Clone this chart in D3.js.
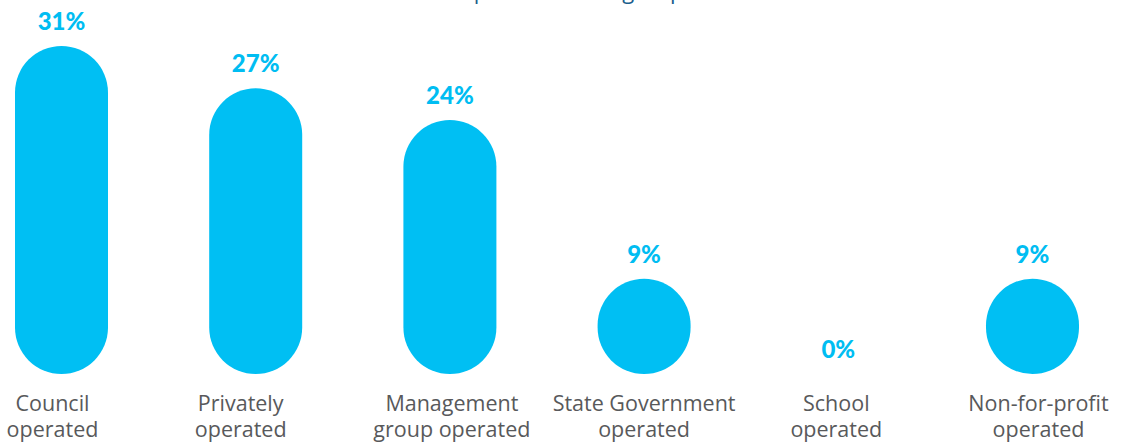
<!DOCTYPE html>
<html>
<head>
<meta charset="utf-8">
<script src="https://cdn.jsdelivr.net/npm/d3@7"></script>
<style>
  html, body { margin: 0; padding: 0; background: #ffffff; }
  svg { display: block; }
</style>
</head>
<body>
<div id="chart"></div>
<script>
// Share of playgroups by type of operator (%)
const categories = [
  ["Council", "operated"],
  ["Privately", "operated"],
  ["Management", "group operated"],
  ["State Government", "operated"],
  ["School", "operated"],
  ["Non-for-profit", "operated"]
];
const values = [31, 27, 24, 9, 0, 9];
const valueLabels = ["31%", "27%", "24%", "9%", "0%", "9%"];
const title = "Operator of the group";

const W = 1121, H = 443;
const barColor = "#00bff3";
const labelColor = "#00bdf2";
const textColor = "#58595b";

// small horizontal nudges for the category captions
const captionShift = [-9, -15, 2, 0, -2, 6];

const svg = d3.select("#chart").append("svg")
  .attr("width", W).attr("height", H);

const keys = categories.map((c, i) => i);
const x = d3.scalePoint().domain(keys).range([61.5, 1032.5]);
const y = d3.scaleLinear().domain([0, 31]).range([374, 46]);
const barW = 93;

// Title, mostly above the visible area
svg.append("text")
  .attr("x", 570).attr("y", -1)
  .attr("text-anchor", "middle")
  .attr("font-family", "'Open Sans', sans-serif")
  .attr("font-size", 22)
  .attr("fill", "#1b5e8c")
  .text(title);

// Rounded (pill-shaped) bars; a zero value draws nothing
svg.selectAll("rect.bar")
  .data(values.map((v, i) => ({ v, i })).filter(d => d.v > 0))
  .join("rect")
  .attr("class", "bar")
  .attr("x", d => x(d.i) - barW / 2)
  .attr("y", d => y(d.v))
  .attr("width", barW)
  .attr("height", d => y(0) - y(d.v))
  .attr("rx", barW / 2)
  .attr("ry", barW / 2)
  .attr("fill", barColor);

// Value labels above each bar
svg.selectAll("text.val")
  .data(values.map((v, i) => ({ v, i })))
  .join("text")
  .attr("class", "val")
  .attr("x", d => x(d.i))
  .attr("y", d => y(d.v) - 16)
  .attr("text-anchor", "middle")
  .attr("font-family", "Lato, sans-serif")
  .attr("font-weight", 900)
  .attr("font-size", 24)
  .attr("fill", labelColor)
  .text(d => valueLabels[d.i]);

// Category labels (two lines) under the baseline
const cat = svg.selectAll("text.cat")
  .data(categories.map((c, i) => ({ c, i })))
  .join("text")
  .attr("class", "cat")
  .attr("text-anchor", "middle")
  .attr("font-family", "'Open Sans', sans-serif")
  .attr("font-size", 21.5)
  .attr("fill", textColor);

cat.selectAll("tspan")
  .data(d => d.c.map((line, k) => ({ line, k, i: d.i })))
  .join("tspan")
  .attr("x", d => x(d.i) + captionShift[d.i])
  .attr("y", d => 411 + d.k * 26)
  .text(d => d.line);
</script>
</body>
</html>
